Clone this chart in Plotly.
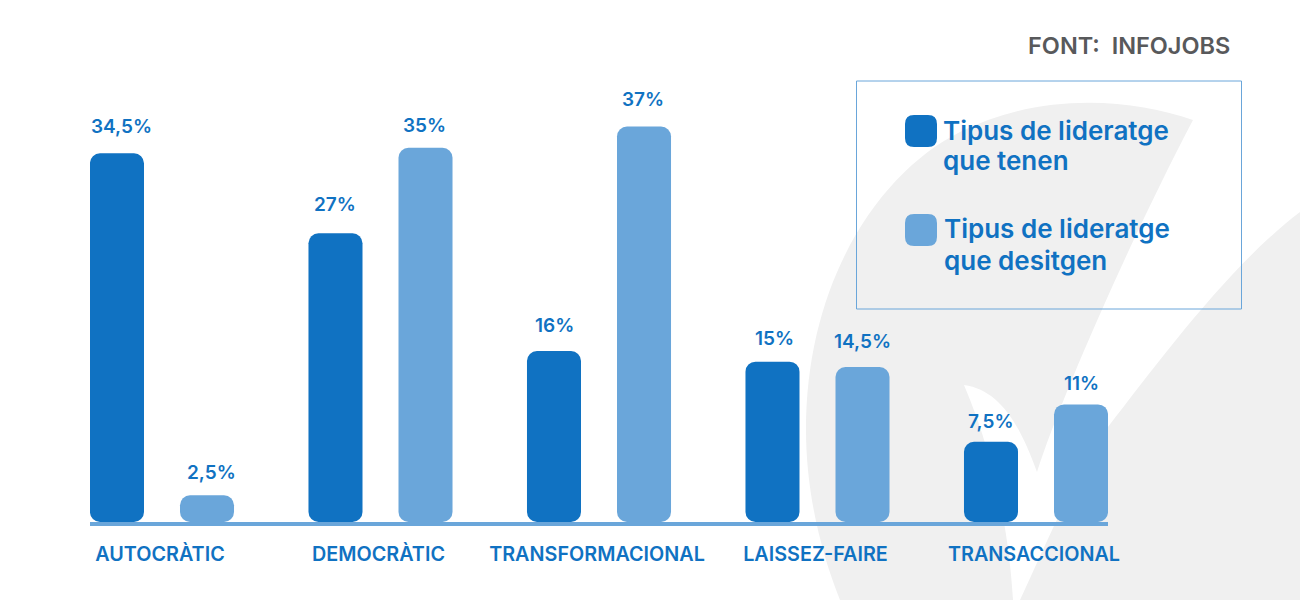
import plotly.graph_objects as go

categories = ["AUTOCRÀTIC", "DEMOCRÀTIC", "TRANSFORMACIONAL", "LAISSEZ-FAIRE", "TRANSACCIONAL"]
tenen = [34.5, 27, 16, 15, 7.5]
desitgen = [2.5, 35, 37, 14.5, 11]
labels_tenen = ["34,5%", "27%", "16%", "15%", "7,5%"]
labels_desitgen = ["2,5%", "35%", "37%", "14,5%", "11%"]
legend_tenen = ["Tipus de lideratge", "que tenen"]
legend_desitgen = ["Tipus de lideratge", "que desitgen"]
source = "FONT:\u00a0\u00a0INFOJOBS"

DARK, LIGHT, GREY = "#1072C2", "#6AA6DA", "#F0F0F0"
FONT = "Inter"
L, T, W, H = 90, 0, 1018, 522
PX_PER_UNIT = 10.69
BAR_OFFSET = 45 / 218.5
# distance in pixels from the bar top to the middle of its label, as placed in the reference
lift_tenen = [27, 29, 25, 23, 20]
lift_desitgen = [23, 22, 27, 26, 21]
nudge_tenen = [4, -1, 0, 2, 0]
nudge_desitgen = [4, -1, -1, 0, 0]


def px(x):
    return (x - L) / W


def py(y):
    return 1 - (y - T) / H


def path(cmds):
    out = []
    for c in cmds:
        if isinstance(c, str):
            out.append(c)
        else:
            out.append(f"{px(c[0]):.5f},{py(c[1]):.5f}")
    return " ".join(out)


def rounded(x0, y0, x1, y1, r):
    return path(["M", (x0 + r, y0), "L", (x1 - r, y0), "Q", (x1, y0), (x1, y0 + r),
                 "L", (x1, y1 - r), "Q", (x1, y1), (x1 - r, y1),
                 "L", (x0 + r, y1), "Q", (x0, y1), (x0, y1 - r),
                 "L", (x0, y0 + r), "Q", (x0, y0), (x0 + r, y0), "Z"])


fig = go.Figure()
for name, vals, color in [("Tipus de lideratge que tenen", tenen, DARK),
                          ("Tipus de lideratge que desitgen", desitgen, LIGHT)]:
    fig.add_trace(go.Bar(x=categories, y=vals, name=name,
                         marker=dict(color=color, line_width=0, cornerradius=10), showlegend=False))

annotations = []
for i in range(len(categories)):
    for vals, labs, sign, lift, nudge in [(tenen, labels_tenen, -1, lift_tenen, nudge_tenen),
                                          (desitgen, labels_desitgen, 1, lift_desitgen, nudge_desitgen)]:
        annotations.append(dict(x=i + sign * BAR_OFFSET, y=vals[i], xref="x", yref="y", text=labs[i],
                                showarrow=False, yshift=lift[i], xshift=nudge[i],
                                yanchor="middle", xanchor="center",
                                font=dict(family=FONT, size=19, weight=600, color=DARK)))

for lines, x, y0 in [(legend_tenen, 941, 130), (legend_desitgen, 942, 229)]:
    for k, line in enumerate(lines):
        annotations.append(dict(x=px(x), y=py(y0 + 31 * k), xref="paper", yref="paper", text=line,
                                showarrow=False, xanchor="left", yanchor="middle", align="left",
                                font=dict(family=FONT, size=26, weight=600, color=DARK)))
annotations.append(dict(x=px(1232), y=py(45), xref="paper", yref="paper", text=source, showarrow=False,
                        xanchor="right", yanchor="middle",
                        font=dict(family=FONT, size=23.5, weight=600, color="#58595B")))

stroke_left = path(["M", (1193, 120), "C", (1130, 98), (1040, 92), (960, 132),
                    "C", (880, 172), (806, 280), (806, 430),
                    "C", (806, 490), (820, 550), (840, 600),
                    "L", (1013, 600), "C", (1010, 550), (1000, 470), (964, 385),
                    "C", (1000, 390), (1020, 425), (1037, 472),
                    "C", (1060, 400), (1130, 240), (1193, 120), "Z"])
stroke_right = path(["M", (1300, 212), "C", (1230, 265), (1160, 360), (1108, 427),
                     "C", (1080, 465), (1050, 535), (1020, 600),
                     "L", (1300, 600), "Z"])

shapes = [
    dict(type="path", path=stroke_left, xref="paper", yref="paper", fillcolor=GREY, line_width=0, layer="below"),
    dict(type="path", path=stroke_right, xref="paper", yref="paper", fillcolor=GREY, line_width=0, layer="below"),
    dict(type="rect", x0=px(856.5), x1=px(1241.5), y0=py(81), y1=py(309), xref="paper", yref="paper",
         line=dict(color=LIGHT, width=1), fillcolor="rgba(0,0,0,0)"),
    dict(type="path", path=rounded(905, 115, 937, 147, 9), xref="paper", yref="paper", fillcolor=DARK, line_width=0),
    dict(type="path", path=rounded(905, 214, 937, 246, 9), xref="paper", yref="paper", fillcolor=LIGHT, line_width=0),
]

fig.update_layout(
    width=1300, height=600, autosize=False,
    margin=dict(l=L, r=1300 - L - W, t=T, b=600 - T - H, pad=0),
    paper_bgcolor="white", plot_bgcolor="rgba(0,0,0,0)",
    barmode="group", bargap=0.176, bargroupgap=0.4,
    showlegend=False, annotations=annotations, shapes=shapes,
    xaxis=dict(type="category", categoryorder="array", categoryarray=categories,
               range=[-72 / 218.5, (1108 - 162) / 218.5],
               showline=True, linecolor=LIGHT, linewidth=4, showgrid=False, zeroline=False,
               ticks="outside", ticklen=11, tickcolor="rgba(0,0,0,0)", ticklabelshift=-2,
               tickfont=dict(family=FONT, size=19.8, weight=600, color=DARK)),
    yaxis=dict(range=[0, H / PX_PER_UNIT], visible=False, showgrid=False, zeroline=False),
)

# page without its default margin; the bars keep plotly's geometry and get rounded feet as well
post = """
document.documentElement.style.margin = '0';
document.body.style.margin = '0';
document.querySelectorAll('.barlayer .point path').forEach(function (p) {
  var b = p.getBBox(), r = 10, x0 = b.x, x1 = b.x + b.width, y0 = b.y, y1 = b.y + b.height;
  p.setAttribute('d', 'M' + (x0 + r) + ',' + y0 + 'H' + (x1 - r) + 'A' + r + ',' + r + ' 0 0 1 ' + x1 + ',' + (y0 + r) +
    'V' + (y1 - r) + 'A' + r + ',' + r + ' 0 0 1 ' + (x1 - r) + ',' + y1 +
    'H' + (x0 + r) + 'A' + r + ',' + r + ' 0 0 1 ' + x0 + ',' + (y1 - r) +
    'V' + (y0 + r) + 'A' + r + ',' + r + ' 0 0 1 ' + (x0 + r) + ',' + y0 + 'Z');
});
"""
fig.write_html("out.html", config=dict(displayModeBar=False), post_script=post)
